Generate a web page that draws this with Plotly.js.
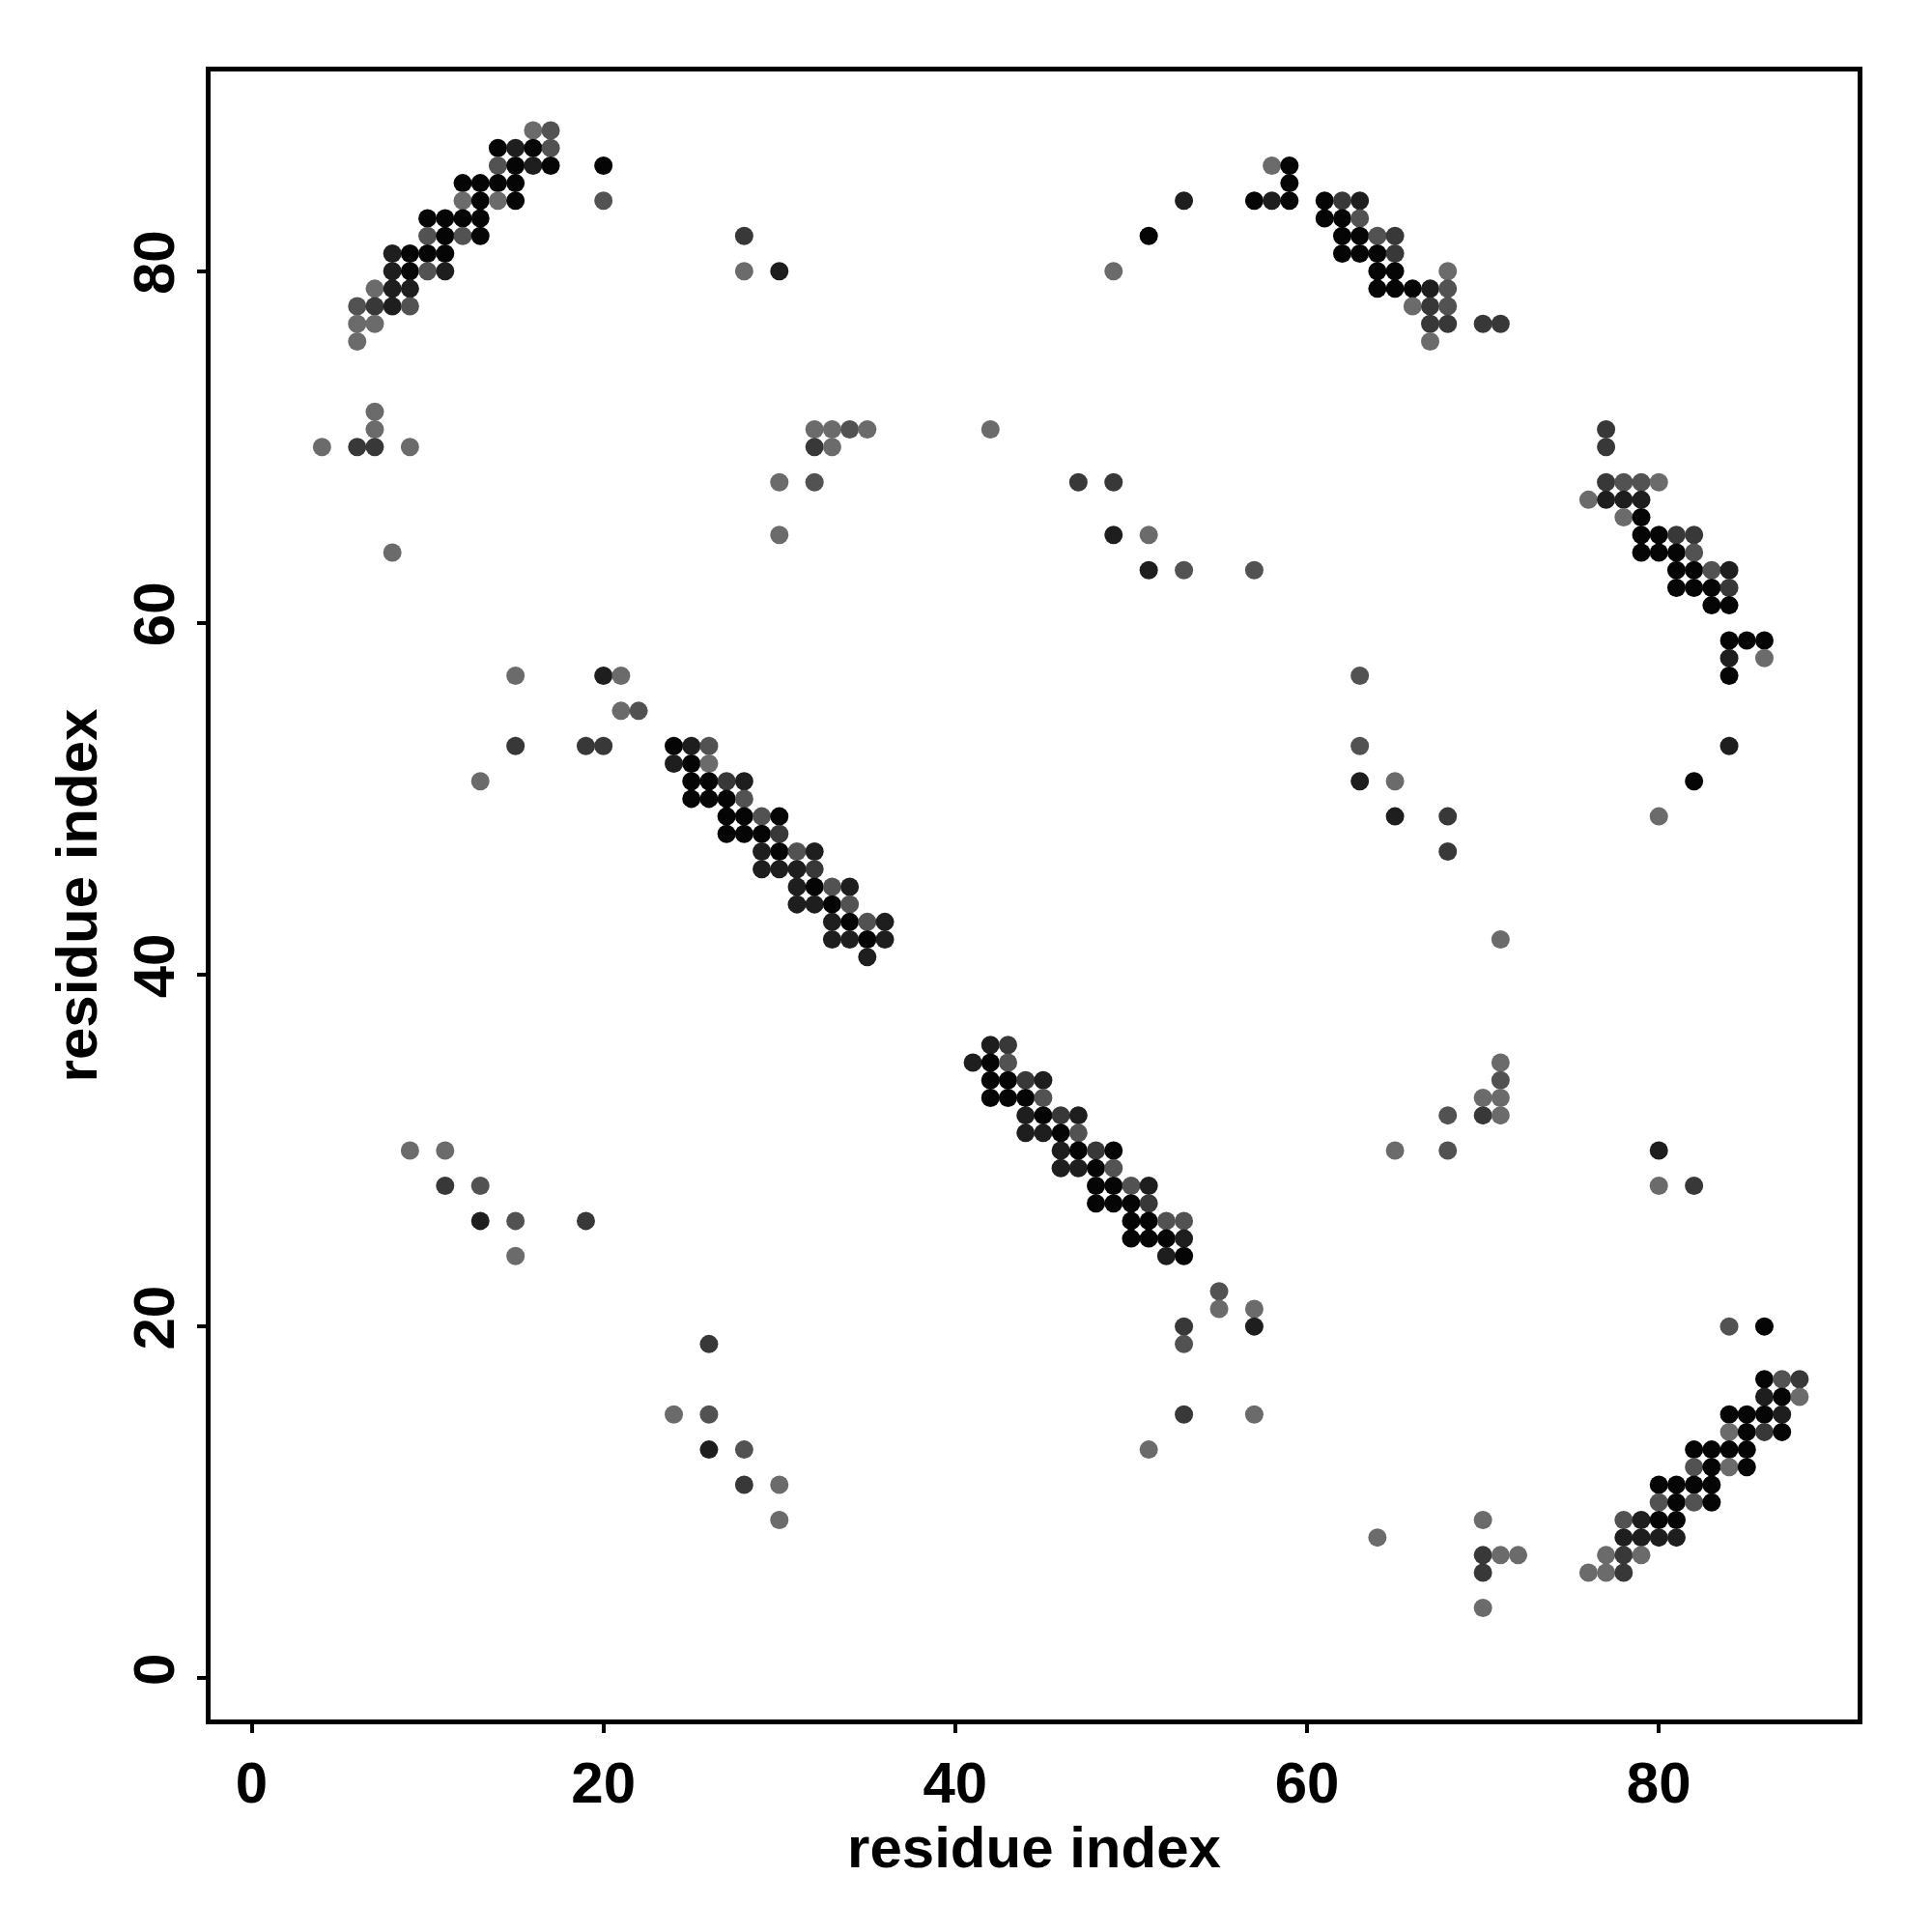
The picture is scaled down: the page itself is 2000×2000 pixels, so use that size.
<!DOCTYPE html>
<html>
<head>
<meta charset="utf-8">
<script src="https://cdn.plot.ly/plotly-3.0.1.min.js"></script>
<style>
  html, body { margin: 0; padding: 0; background: #ffffff; }
  #chart { width: 2000px; height: 2000px; }
</style>
</head>
<body>
<div id="chart"></div>
<script>
// residue i (x), residue j (y) and contact shade (1 = darkest ... 5 = lightest)
const residueI = [
  16,17, 14,15,16,17, 14,15,16,17,20, 12,13,14,15, 12,13,14,15,20, 10,11,12,13, 10,11,12,13,
  8,9,10,11, 8,9,10,11, 7,8,9, 6,7,8,9, 6,7, 6, 28,28,30,
  58,59, 59, 53,57,58,59,61,62,63, 61,62,63, 51,62,63,64,65, 62,63,64,65, 49,64,65,68,
  64,65,66,67,68, 66,67,68, 67,68,70,71, 67,
  7,7,4,6,7,9,8, 32,33,34,35,32,33,30,32,30,
  42,47,49,49,51,51,53,57,
  77,77, 77,78,79,80, 76,77,78,79, 78,79, 79,80,81,82, 79,80,81,82, 81,82,83,84, 81,82,83,84,
  83,84, 84,85,86, 84,86, 84,
  15,20,21, 21,22, 15,19,20,24,25,26, 13, 24,25,26, 25,26,27,28, 25,26,27,28, 27,28,29,30,
  27,28,29,30, 29,30,31,32, 29,30,31,32, 31,32,33,34, 31,32,33,34, 33,34,35,36, 33,34,35,36, 35,
  63,63,63,65,65,68,68,84,82,80,
  42,43, 41,42,43, 42,43,44,45, 42,43,44,45, 44,45,46,47, 44,45,46,47, 46,47,48,49, 46,47,48,49,
  48,49,50,51, 48,49,50,51, 50,51,52,53, 50,51,52,53, 52,53,
  55,55,57,53,57,53, 51,53,57,
  71,71,71,70,71,68,70,71,65,68,80,80,82,
  9,11,11,13,13,15,19,15, 26,24,26,26,28,28,30,30,
  84,86, 86,87,88, 86,87,88, 84,85,86,87, 84,85,86,87, 82,83,84,85, 82,83,84,85,
  80,81,82,83, 80,81,82,83, 70,78,79,80,81, 64,78,79,80,81, 70,71,72,77,78,79, 70,76,77,78, 70
];
const residueJ = [
  88,88, 87,87,87,87, 86,86,86,86,86, 85,85,85,85, 84,84,84,84,84, 83,83,83,83, 82,82,82,82,
  81,81,81,81, 80,80,80,80, 79,79,79, 78,78,78,78, 77,77, 76, 82,80,80,
  86,86, 85, 84,84,84,84,84,84,84, 83,83,83, 82,82,82,82,82, 81,81,81,81, 80,80,80,80,
  79,79,79,79,79, 78,78,78, 77,77,77,77, 76,
  72,71,70,70,70,70,64, 71,71,71,71,70,70,68,68,65,
  71,68,68,65,65,63,63,63,
  71,70, 68,68,68,68, 67,67,67,67, 66,66, 65,65,65,65, 64,64,64,64, 63,63,63,63, 62,62,62,62,
  61,61, 59,59,59, 58,58, 57,
  57,57,57, 55,55, 53,53,53,53,53,53, 51, 52,52,52, 51,51,51,51, 50,50,50,50, 49,49,49,49,
  48,48,48,48, 47,47,47,47, 46,46,46,46, 45,45,45,45, 44,44,44,44, 43,43,43,43, 42,42,42,42, 41,
  57,53,51,51,49,49,47,53,51,49,
  36,36, 35,35,35, 34,34,34,34, 33,33,33,33, 32,32,32,32, 31,31,31,31, 30,30,30,30, 29,29,29,29,
  28,28,28,28, 27,27,27,27, 26,26,26,26, 25,25,25,25, 24,24,
  22,21,21,20,20,19, 13,15,15,
  42,35,34,33,33,32,32,32,30,30,30,28,28,
  30,30,28,28,26,26,26,24, 19,15,15,13,13,11,11,9,
  20,20, 17,17,17, 16,16,16, 15,15,15,15, 14,14,14,14, 13,13,13,13, 12,12,12,12,
  11,11,11,11, 10,10,10,10, 9,9,9,9,9, 8,8,8,8,8, 7,7,7,7,7,7, 6,6,6,6, 4
];
const contactShade = [
  5,4, 1,2,1,4, 4,1,2,1,1, 1,1,1,1, 5,1,5,1,4, 1,1,1,1, 4,1,4,1,
  2,1,1,1, 2,1,4,2, 5,2,2, 4,3,2,4, 5,5, 5, 3,5,2,
  5,1, 1, 2,1,2,1,1,3,2, 1,1,4, 1,1,1,4,3, 1,1,1,3, 5,1,1,5,
  1,1,1,2,4, 5,3,4, 3,3,3,3, 5,
  5,5,5,3,3,5,5, 5,5,4,5,3,5,5,4,5,
  5,3,3,2,5,2,4,4,
  3,3, 3,4,4,5, 5,2,2,2, 5,1, 1,1,3,3, 1,1,1,4, 1,1,4,2, 1,1,1,3,
  1,1, 1,1,1, 2,5, 1,
  5,2,5, 5,4, 3,3,3,1,2,4, 5, 2,1,5, 1,1,3,2, 1,1,1,4, 1,1,4,1,
  1,1,1,3, 2,1,4,2, 2,2,2,3, 2,1,4,2, 2,2,1,4, 2,1,4,2, 2,2,1,2, 2,
  4,4,2,5,2,3,3,2,1,5,
  2,3, 2,1,4, 1,1,3,2, 1,1,1,4, 2,1,3,2, 2,2,1,4, 2,1,3,1, 2,2,1,4,
  1,1,4,2, 1,1,1,3, 1,1,4,4, 1,1,1,2, 2,1,
  4,5,5,3,2,4, 5,3,5,
  5,5,4,5,5,4,3,5,5,4,2,5,3,
  5,5,3,4,2,4,3,5, 3,5,4,2,4,3,5,5,
  4,1, 1,4,3, 2,1,5, 1,1,1,2, 5,1,3,1, 1,1,1,1, 4,1,5,1,
  1,1,1,1, 4,1,4,1, 5,4,2,1,1, 5,2,2,2,2, 3,5,5,5,3,5, 3,5,5,3, 5
];
const xTickVals = [0, 20, 40, 60, 80];
const yTickVals = [0, 20, 40, 60, 80];
const axisTitle = 'residue index';

const fontFamily = '"Liberation Sans", Arial, Helvetica, sans-serif';
const titleFont = { family: fontFamily, size: 60, color: '#000000', weight: 700 };

const trace = {
  type: 'scatter',
  mode: 'markers',
  x: residueI,
  y: residueJ,
  marker: {
    size: 19,
    color: contactShade,
    cmin: 1,
    cmax: 5,
    colorscale: [[0, '#050505'], [0.25, '#1e1e1e'], [0.5, '#383838'], [0.75, '#525252'], [1, '#6b6b6b']],
    showscale: false,
    line: { width: 0 }
  },
  hoverinfo: 'x+y'
};

function axisBase(vals, tickLen, standoff) {
  return {
    showgrid: false,
    zeroline: false,
    showline: true,
    mirror: true,
    linecolor: '#000000',
    linewidth: 5,
    ticks: 'outside',
    ticklen: tickLen,
    tickwidth: 4,
    tickcolor: '#000000',
    tickvals: vals,
    ticktext: vals.map(String),
    tickfont: { family: fontFamily, size: 60, color: '#000000', weight: 700 },
    title: { text: axisTitle, font: titleFont, standoff: standoff },
    automargin: false
  };
}

const layout = {
  width: 2000,
  height: 2000,
  paper_bgcolor: '#ffffff',
  plot_bgcolor: '#ffffff',
  showlegend: false,
  margin: { l: 218, r: 77, t: 74, b: 220 },
  xaxis: Object.assign(axisBase(xTickVals, 9, 0), {
    range: [-2.334, 91.30]
  }),
  yaxis: Object.assign(axisBase(yTickVals, 9, 8), {
    range: [-2.345, 91.35],
    tickangle: -90
  })
};

Plotly.newPlot('chart', [trace], layout, { displayModeBar: false, staticPlot: true });
</script>
</body>
</html>
